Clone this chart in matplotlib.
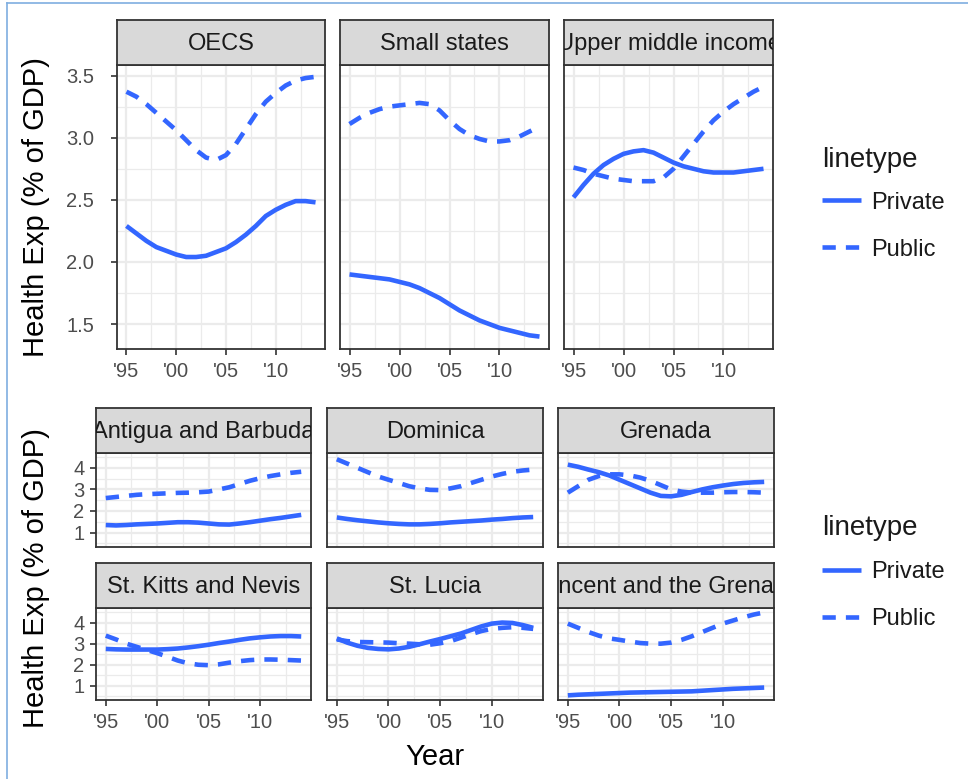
import numpy as np
import matplotlib
matplotlib.use("Agg")
import matplotlib.pyplot as plt
from matplotlib.lines import Line2D
from matplotlib.ticker import MultipleLocator, FixedLocator, FuncFormatter

plt.rcParams['font.family'] = ['Liberation Sans', 'DejaVu Sans']

years = list(range(1995, 2015))

# --- regional aggregates (smoothed health expenditure, % of GDP) ---
regions = ["OECS", "Small states", "Upper middle income"]
region_private = {
    "OECS": [2.29, 2.23, 2.17, 2.12, 2.09, 2.06, 2.04, 2.04, 2.05, 2.08,
             2.11, 2.16, 2.22, 2.29, 2.37, 2.42, 2.46, 2.49, 2.49, 2.48],
    "Small states": [1.90, 1.89, 1.88, 1.87, 1.86, 1.84, 1.82, 1.79, 1.75, 1.71,
                     1.66, 1.61, 1.57, 1.53, 1.50, 1.47, 1.45, 1.43, 1.41, 1.40],
    "Upper middle income": [2.52, 2.62, 2.71, 2.78, 2.83, 2.87, 2.89, 2.90, 2.88, 2.84,
                            2.80, 2.77, 2.75, 2.73, 2.72, 2.72, 2.72, 2.73, 2.74, 2.75],
}
region_public = {
    "OECS": [3.37, 3.33, 3.27, 3.20, 3.13, 3.06, 2.98, 2.90, 2.84, 2.82,
             2.86, 2.95, 3.07, 3.19, 3.29, 3.36, 3.42, 3.46, 3.48, 3.49],
    "Small states": [3.11, 3.16, 3.20, 3.23, 3.25, 3.26, 3.27, 3.28, 3.27, 3.22,
                     3.14, 3.07, 3.02, 2.99, 2.97, 2.97, 2.98, 3.01, 3.05, 3.09],
    "Upper middle income": [2.76, 2.74, 2.71, 2.69, 2.67, 2.66, 2.65, 2.65, 2.65, 2.68,
                            2.75, 2.85, 2.95, 3.05, 3.14, 3.21, 3.27, 3.32, 3.37, 3.41],
}

# --- individual countries ---
countries = ["Antigua and Barbuda", "Dominica", "Grenada",
             "St. Kitts and Nevis", "St. Lucia", "St. Vincent and the Grenadines"]
country_private = {
    "Antigua and Barbuda": [1.35, 1.33, 1.35, 1.38, 1.40, 1.42, 1.45, 1.48, 1.48, 1.46,
                            1.42, 1.38, 1.37, 1.42, 1.48, 1.55, 1.62, 1.68, 1.75, 1.82],
    "Dominica": [1.70, 1.63, 1.57, 1.52, 1.47, 1.43, 1.40, 1.38, 1.38, 1.40,
                 1.43, 1.47, 1.50, 1.53, 1.56, 1.60, 1.63, 1.67, 1.70, 1.72],
    "Grenada": [4.15, 4.05, 3.92, 3.80, 3.65, 3.45, 3.25, 3.05, 2.85, 2.70,
                2.68, 2.75, 2.88, 3.00, 3.10, 3.18, 3.25, 3.30, 3.33, 3.35],
    "St. Kitts and Nevis": [2.75, 2.73, 2.72, 2.72, 2.72, 2.72, 2.74, 2.77, 2.82, 2.88,
                            2.95, 3.03, 3.10, 3.18, 3.25, 3.30, 3.34, 3.36, 3.36, 3.34],
    "St. Lucia": [3.25, 3.05, 2.90, 2.80, 2.75, 2.73, 2.77, 2.85, 2.97, 3.10,
                  3.22, 3.35, 3.48, 3.65, 3.82, 3.95, 4.00, 3.98, 3.88, 3.75],
    "St. Vincent and the Grenadines": [0.55, 0.58, 0.60, 0.62, 0.64, 0.66, 0.68, 0.69, 0.70, 0.71,
                                       0.72, 0.73, 0.74, 0.77, 0.80, 0.83, 0.86, 0.88, 0.90, 0.92],
}
country_public = {
    "Antigua and Barbuda": [2.60, 2.65, 2.70, 2.75, 2.78, 2.80, 2.82, 2.84, 2.85, 2.87,
                            2.90, 3.00, 3.10, 3.25, 3.40, 3.52, 3.62, 3.70, 3.77, 3.82],
    "Dominica": [4.40, 4.20, 4.00, 3.80, 3.60, 3.45, 3.30, 3.15, 3.05, 2.98,
                 2.97, 3.05, 3.15, 3.30, 3.45, 3.60, 3.72, 3.82, 3.88, 3.92],
    "Grenada": [2.85, 3.15, 3.45, 3.62, 3.70, 3.70, 3.65, 3.55, 3.40, 3.20,
                3.00, 2.90, 2.85, 2.85, 2.85, 2.87, 2.88, 2.88, 2.87, 2.85],
    "St. Kitts and Nevis": [3.38, 3.20, 3.00, 2.85, 2.70, 2.55, 2.38, 2.20, 2.07, 2.00,
                            1.98, 2.02, 2.10, 2.17, 2.22, 2.25, 2.25, 2.24, 2.22, 2.20],
    "St. Lucia": [3.20, 3.12, 3.08, 3.07, 3.06, 3.05, 3.02, 3.00, 2.97, 2.95,
                  3.02, 3.12, 3.28, 3.45, 3.60, 3.70, 3.75, 3.78, 3.75, 3.70],
    "St. Vincent and the Grenadines": [3.95, 3.75, 3.55, 3.38, 3.25, 3.18, 3.10, 3.03, 3.00, 3.00,
                                       3.05, 3.18, 3.35, 3.55, 3.75, 3.95, 4.10, 4.25, 4.38, 4.48],
}

x_ticks = [1995, 2000, 2005, 2010]
x_tick_labels = ["'95", "'00", "'05", "'10"]
top_y_ticks = [1.5, 2.0, 2.5, 3.0, 3.5]
bottom_y_ticks = [1, 2, 3, 4]
linetype_labels = ["Private", "Public"]

# --- styling ---
W, H = 968, 779
LINE_BLUE = "#3366FF"
BORDER = "#333333"
GRID = "#EBEBEB"
STRIP_FILL = "#D9D9D9"
TICK_TXT = "#4D4D4D"
LW = 3.3
DASH = (2.9, 2.2)

fig = plt.figure(figsize=(W / 100, H / 100), dpi=100)
fig.patch.set_facecolor("white")


def rect(x0, y0, x1, y1):
    return [x0 / W, 1 - y1 / H, (x1 - x0) / W, (y1 - y0) / H]


def draw_panel(x0, x1, strip_y0, plot_y0, plot_y1, title, private, public,
               ylim, yticks, ymajor, show_y, show_x, ypad, yfmt):
    ax = fig.add_axes(rect(x0, plot_y0, x1, plot_y1))
    ax.set_facecolor("white")
    ax.set_xlim(1994.05, 2014.95)
    ax.set_ylim(*ylim)
    ax.xaxis.set_major_locator(FixedLocator(x_ticks))
    ax.xaxis.set_minor_locator(FixedLocator([1997.5, 2002.5, 2007.5, 2012.5]))
    ax.yaxis.set_major_locator(FixedLocator(yticks))
    ax.yaxis.set_minor_locator(MultipleLocator(ymajor / 2))
    ax.grid(which="major", color=GRID, lw=1.6)
    ax.grid(which="minor", color=GRID, lw=0.9)
    ax.set_axisbelow(True)
    for s in ax.spines.values():
        s.set_color(BORDER)
        s.set_linewidth(1.3)
    ax.tick_params(which="minor", length=0)
    ax.tick_params(which="major", direction="out", length=4.3, width=1.2,
                   color=BORDER, labelcolor=TICK_TXT, labelsize=14.5)
    ax.tick_params(axis="y", pad=ypad)
    ax.tick_params(axis="x", pad=5)
    if show_x:
        ax.set_xticklabels(x_tick_labels)
    else:
        ax.tick_params(axis="x", which="both", length=0, labelbottom=False)
    if show_y:
        ax.yaxis.set_major_formatter(FuncFormatter(yfmt))
    else:
        ax.tick_params(axis="y", which="both", length=0, labelleft=False)

    ax.plot(years, private, color=LINE_BLUE, lw=LW, solid_capstyle="butt")
    ax.plot(years, public, color=LINE_BLUE, lw=LW, dashes=DASH,
            dash_capstyle="butt")

    st = fig.add_axes(rect(x0, strip_y0, x1, plot_y0))
    st.set_facecolor(STRIP_FILL)
    st.set_xticks([])
    st.set_yticks([])
    for s in st.spines.values():
        s.set_color(BORDER)
        s.set_linewidth(1.3)
    st.text(0.5, 0.47, title, transform=st.transAxes, ha="center", va="center",
            fontsize=17, color="#1A1A1A", clip_on=True)
    return ax


def add_legend(x, y, title_gap):
    handles = [Line2D([], [], color=LINE_BLUE, lw=LW, solid_capstyle="butt"),
               Line2D([], [], color=LINE_BLUE, lw=LW, dashes=DASH,
                      dash_capstyle="butt")]
    leg = fig.legend(handles, linetype_labels, title="linetype",
                     loc="upper left", bbox_to_anchor=(x / W, 1 - y / H),
                     frameon=False, fontsize=17, title_fontsize=20,
                     handlelength=1.65, handletextpad=0.45, labelspacing=1.05,
                     borderpad=0, borderaxespad=0, alignment="left")
    leg._legend_box.sep = title_gap
    for t in leg.get_texts():
        t.set_color("#1A1A1A")
    leg.get_title().set_color("#1A1A1A")


# top group: regional aggregates
top_cols = [(117, 325), (340, 549), (564, 773)]
for i, name in enumerate(regions):
    draw_panel(top_cols[i][0], top_cols[i][1], 20, 65, 349, name,
               region_private[name], region_public[name],
               (1.30, 3.585), top_y_ticks, 0.5, i == 0, True, 12,
               lambda v, p: f"{v:.1f}")

# bottom group: countries in a 2 x 3 grid
bot_cols = [(96, 311), (327, 543), (558, 774)]
bot_rows = [(408, 453, 547), (563, 608, 700)]
for k, name in enumerate(countries):
    r, c = divmod(k, 3)
    sy, py0, py1 = bot_rows[r]
    draw_panel(bot_cols[c][0], bot_cols[c][1], sy, py0, py1, name,
               country_private[name], country_public[name],
               (0.33, 4.69), bottom_y_ticks, 1.0, c == 0, r == 1, 4,
               lambda v, p: f"{v:.0f}")

# axis titles
fig.text(36 / W, 1 - 207 / H, "Health Exp (% of GDP)", rotation=90,
         ha="center", va="center", fontsize=21, color="black")
fig.text(36 / W, 1 - 578 / H, "Health Exp (% of GDP)", rotation=90,
         ha="center", va="center", fontsize=21, color="black")
fig.text(435 / W, 1 - 757 / H, "Year", ha="center", va="center",
         fontsize=21, color="black")

add_legend(822, 147, 13.5)
add_legend(822, 515, 14.5)

# page frame
fig.add_artist(Line2D([7 / W, 7 / W], [0, 1 - 3 / H], transform=fig.transFigure,
                      color="#7FAEE0", lw=1.2))
fig.add_artist(Line2D([7 / W, 1], [1 - 3 / H, 1 - 3 / H], transform=fig.transFigure,
                      color="#7FAEE0", lw=1.2))

fig.savefig("out.png", dpi=100, facecolor="white")
